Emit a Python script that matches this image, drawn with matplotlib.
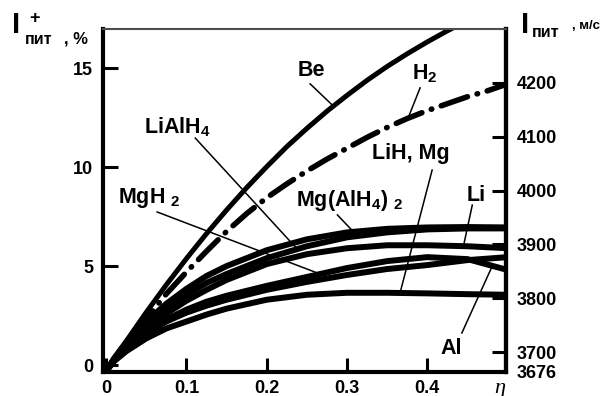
import numpy as np
import matplotlib.pyplot as plt
from matplotlib.ticker import FixedLocator, FixedFormatter

plt.rcParams['font.family'] = ['Liberation Sans', 'DejaVu Sans']
plt.rcParams['font.weight'] = 'bold'
plt.rcParams['mathtext.fontset'] = 'custom'
plt.rcParams['mathtext.rm'] = 'Liberation Sans:bold'
plt.rcParams['mathtext.it'] = 'Liberation Sans:bold'
plt.rcParams['mathtext.bf'] = 'Liberation Sans:bold'

# --- data (I+ in %, versus eta) ---
be_eta = [0, 0.02, 0.05, 0.075, 0.1, 0.125, 0.15, 0.175, 0.2, 0.225, 0.25,
          0.275, 0.3, 0.325, 0.35, 0.375, 0.4, 0.425, 0.45]
be = [-0.3, 0.92, 2.67, 4.06, 5.38, 6.64, 7.83, 8.96, 10.02, 11.03, 11.95,
      12.82, 13.62, 14.38, 15.08, 15.72, 16.32, 16.88, 17.4]

h2_eta = [0, 0.02, 0.05, 0.075, 0.1, 0.125, 0.15, 0.175, 0.2, 0.225, 0.25,
          0.275, 0.3, 0.325, 0.35, 0.375, 0.4, 0.425, 0.45, 0.475, 0.5]
h2 = [-0.3, 0.9, 2.35, 3.6, 4.7, 5.75, 6.75, 7.65, 8.45, 9.15, 9.8,
      10.4, 10.95, 11.5, 12.0, 12.45, 12.85, 13.2, 13.55, 13.85, 14.2]

eta = [0, 0.01, 0.025, 0.05, 0.075, 0.1, 0.125, 0.15, 0.2, 0.25, 0.3, 0.35,
       0.4, 0.45, 0.5]
mg_alh4_2 = [-0.3, 0.35, 1.15, 2.2, 3.1, 3.85, 4.5, 5.0, 5.8, 6.35, 6.7, 6.88,
             6.95, 6.97, 6.95]
lialh4 = [-0.3, 0.3, 1.05, 2.0, 2.85, 3.55, 4.15, 4.6, 5.4, 6.0, 6.45, 6.7,
          6.85, 6.9, 6.9]
li = [-0.3, 0.28, 0.95, 1.85, 2.6, 3.25, 3.8, 4.3, 5.1, 5.6, 5.9, 6.05,
      6.05, 6.0, 5.9]
mgh2 = [-0.3, 0.25, 0.85, 1.6, 2.2, 2.65, 3.0, 3.3, 3.8, 4.2, 4.55, 4.85,
        5.05, 5.3, 5.45]
al = [-0.3, 0.26, 0.9, 1.7, 2.3, 2.8, 3.2, 3.5, 4.0, 4.45, 4.9, 5.25,
      5.45, 5.35, 4.8]
lih_mg = [-0.3, 0.2, 0.7, 1.35, 1.85, 2.2, 2.55, 2.85, 3.3, 3.55, 3.65, 3.65,
          3.62, 3.58, 3.55]

x_ticks = [0, 0.1, 0.2, 0.3, 0.4]
x_labels = ['0', '0.1', '0.2', '0.3', '0.4']
left_ticks = [0, 5, 10, 15]
right_ticks = [3700, 3800, 3900, 4000, 4100, 4200]
I_base = 3676  # m/s, I+ = 0 %


def to_ms(p):
    return I_base * (1 + np.asarray(p) / 100.0)


def to_pct(v):
    return (np.asarray(v) / I_base - 1) * 100.0


fig = plt.figure(figsize=(6.12, 3.96), dpi=100)
ax = fig.add_axes([103 / 612, 24 / 396, 403 / 612, 343 / 396])
ax.set_xlim(-0.004, 0.498)
ax.set_ylim(-0.35, 16.97)

kw = dict(color='black', solid_capstyle='round', solid_joinstyle='round')
for yy in [lih_mg, al, mgh2, li, lialh4, mg_alh4_2]:
    ax.plot(eta, yy, lw=4.3, **kw)
ax.plot(be_eta, be, lw=3.6, **kw)
ax.plot(h2_eta, h2, lw=4.0, color='black', linestyle=(0, (5, 1.8, 0.1, 1.8)),
        dash_capstyle='round')

# labels with pointer lines: (text, text pos, pointer start, curve x, curve)
labels = [
    ('Be', (0.255, 14.85), (0.254, 14.2), 0.283, be_eta, be),
    ('H$_2$', (0.397, 14.7), (0.391, 14.0), 0.376, h2_eta, h2),
    ('LiAlH$_4$', (0.088, 12.0), (0.111, 11.46), 0.238, eta, lialh4),
    ('MgH $_2$', (0.054, 8.43), (0.0635, 7.73), 0.279, eta, mgh2),
    ('Mg(AlH$_4$) $_2$', (0.303, 8.33), (0.288, 7.58), 0.308, eta, mg_alh4_2),
    ('Li', (0.461, 8.54), (0.456, 8.08), 0.445, eta, li),
    ('LiH, Mg', (0.379, 10.7), (0.406, 9.85), 0.366, eta, lih_mg),
    ('Al', (0.43, 0.86), (0.443, 1.62), 0.481, eta, al),
]
for txt, tpos, start, xc, xs, ys in labels:
    ax.text(tpos[0], tpos[1], txt, fontsize=15.5, ha='center', va='center')
    ax.plot([start[0], xc], [start[1], np.interp(xc, xs, ys)],
            color='black', lw=1.1)

# axes styling
for s in ['left', 'bottom', 'right']:
    ax.spines[s].set_linewidth(3)
ax.spines['top'].set_linewidth(1.5)
ax.spines['top'].set_color('0.3')

ax.set_xticks(x_ticks, x_labels)
ax.set_yticks(left_ticks)
ax.tick_params(axis='x', direction='in', length=10, width=2.2, pad=6,
               labelsize=13)
ax.tick_params(axis='y', direction='in', length=11, width=2.2, pad=7,
               labelsize=13)

sec = ax.secondary_yaxis('right', functions=(to_ms, to_pct))
sec.spines['right'].set_linewidth(3)
sec.set_yticks(right_ticks)
sec.yaxis.set_minor_locator(FixedLocator([float(to_ms(ax.get_ylim()[0]))]))
sec.yaxis.set_minor_formatter(FixedFormatter(['3676']))
sec.tick_params(which='major', direction='in', length=10, width=2.2, pad=8,
                labelsize=13)
sec.tick_params(which='minor', direction='in', length=0, pad=8, labelsize=13)

# axis titles
def ft(x, y, s, **k):
    fig.text(x / 612, 1 - y / 396, s, va='baseline', ha='left', **k)


ft(12, 33, 'I', fontsize=21)
ft(29, 23, '+', fontsize=13)
ft(25, 44, 'пит', fontsize=11.5)
ft(64, 43, ', %', fontsize=12)
ft(521, 33, 'I', fontsize=21)
ft(532, 37, 'пит', fontsize=11.5)
ft(572, 29, ', м/с', fontsize=9.5)
fig.text(500 / 612, 1 - 388 / 396, 'η', family='Liberation Serif',
         style='italic', weight='normal', fontsize=16, ha='center',
         va='center')

fig.savefig('out.png', dpi=100)
